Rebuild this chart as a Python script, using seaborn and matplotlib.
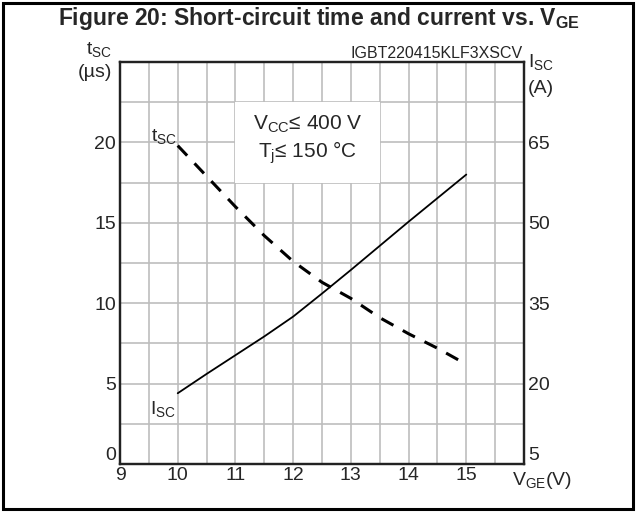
import pandas as pd
import matplotlib.pyplot as plt
import matplotlib.patches as patches
import seaborn as sns

# values
vge = [10, 10.5, 11, 11.5, 12, 12.5, 13, 13.5, 14, 14.5, 15]
tsc_us = [19.8, 17.9, 16.0, 14.2, 12.6, 11.3, 10.3, 9.1, 8.1, 7.2, 6.2]
isc_a = [18.2, 21.8, 25.3, 28.8, 32.5, 36.8, 41.2, 45.7, 50.2, 54.6, 59.0]

x_ticks = [9, 10, 11, 12, 13, 14, 15]
left_ticks = [0, 5, 10, 15, 20]
right_ticks = [5, 20, 35, 50, 65]

df = pd.DataFrame({'VGE': vge, 'tsc': tsc_us, 'Isc': isc_a})

sns.set_theme(style="white")
plt.rcParams['font.family'] = ['Liberation Sans', 'DejaVu Sans']
plt.rcParams['mathtext.default'] = 'regular'

fig = plt.figure(figsize=(6.37, 5.15), dpi=100)
ax = fig.add_axes([120 / 637, 1 - 464 / 515, 404 / 637, 402 / 515])
ax2 = ax.twinx()

# grid every 0.5 V / 2.5 us
grid_kw = dict(color='#bdbdbd', lw=1.2, zorder=0)
for gx in [9 + 0.5 * i for i in range(1, 14)]:
    ax.axvline(gx, **grid_kw)
for gy in [2.5 * i for i in range(1, 10)]:
    ax.axhline(gy, **grid_kw)

# white box for conditions
ax.add_patch(patches.Rectangle((11, 17.5), 2.5, 5, facecolor='white',
                               edgecolor='none', zorder=1))
ax.text(12.25, 21.1, '$V_{CC}$≤ 400 V', ha='center', va='center', fontsize=15, zorder=2)
ax.text(12.25, 19.35, '$T_j$≤ 150 °C', ha='center', va='center', fontsize=15, zorder=2)

sns.lineplot(data=df, x='VGE', y='tsc', ax=ax, color='black', lw=2.2,
             linestyle=(0, (4.5, 3.5)), zorder=3)
sns.lineplot(data=df, x='VGE', y='Isc', ax=ax2, color='black', lw=1.3, zorder=3)

ax.set_xlim(9, 16)
ax.set_ylim(0, 25)
ax2.set_ylim(5, 80)
ax.set_xticks(x_ticks)
ax.set_yticks(left_ticks)
ax2.set_yticks(right_ticks)
ax.set_xlabel('')
ax.set_ylabel('')
ax2.set_ylabel('')
ax.tick_params(length=0, labelsize=14, pad=3)
ax2.tick_params(length=0, labelsize=14, pad=3)
ax.tick_params(axis='x', pad=2)

# the bottom-most y labels sit just above the corner
ax.get_yticklabels()[0].set_va('bottom')
ax2.get_yticklabels()[0].set_va('bottom')

for a in (ax, ax2):
    for s in a.spines.values():
        s.set_color('#222222')
        s.set_linewidth(1.6)

# curve labels
ax.text(9.98, 20.35, '$t_{SC}$', ha='right', va='center', fontsize=14)
ax.text(9.74, 3.4, '$I_{SC}$', ha='center', va='center', fontsize=14)

# axis captions
ax.text(-0.02, 1.03, '$t_{SC}$', transform=ax.transAxes, ha='right', va='center', fontsize=14)
ax.text(-0.02, 0.975, '(µs)', transform=ax.transAxes, ha='right', va='center', fontsize=14)
ax.text(1.01, 1.0, '$I_{SC}$', transform=ax.transAxes, ha='left', va='center', fontsize=14)
ax.text(1.01, 0.935, '(A)', transform=ax.transAxes, ha='left', va='center', fontsize=14)
ax.text(0.97, -0.015, '$V_{GE}$(V)', transform=ax.transAxes, ha='left', va='top', fontsize=14)
ax.text(0.997, 1.003, 'IGBT220415KLF3XSCV', transform=ax.transAxes, ha='right',
        va='bottom', fontsize=11.5)

fig.text(0.5, 1 - 18 / 515, 'Figure 20: Short-circuit time and current vs. $V_{GE}$',
         ha='center', va='center', fontsize=16.5, fontweight='bold')

fig.patches.append(patches.Rectangle((3 / 637, 6 / 515), 630 / 637, 506 / 515,
                                     transform=fig.transFigure, fill=False,
                                     edgecolor='black', lw=2.2))

plt.savefig('out.png', dpi=100)
